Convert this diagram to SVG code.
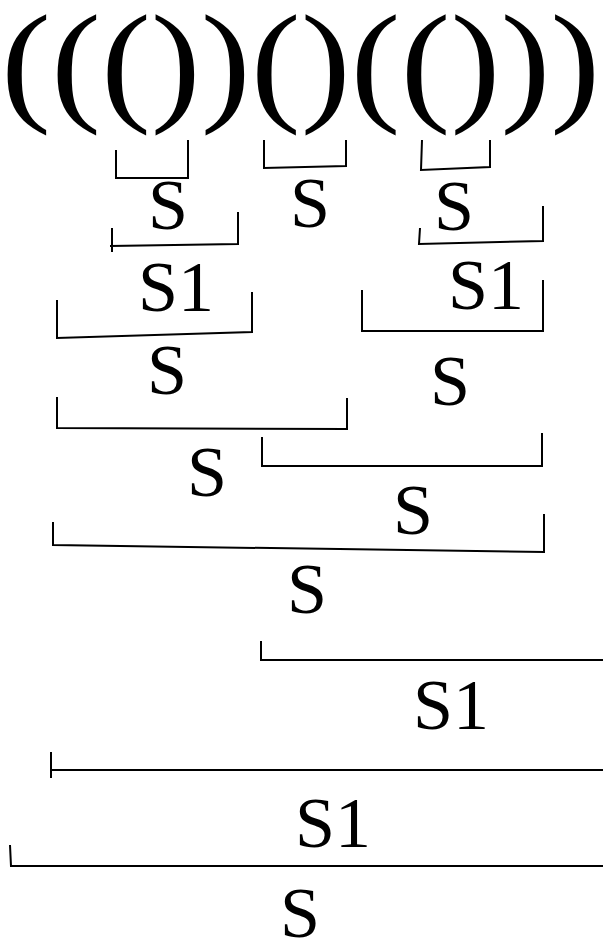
<svg xmlns="http://www.w3.org/2000/svg" width="603" height="944" viewBox="0 0 603 944">
<style>
.p{font-family:"Liberation Serif","Times New Roman",serif;font-size:150px;fill:#000}
.l{font-family:"Liberation Serif","Times New Roman",serif;font-size:72px;fill:#000;text-anchor:middle}
.b{fill:none;stroke:#000;stroke-width:2}
</style>
<rect width="603" height="944" fill="#fff"/>
<g id="parens"><text class="p" x="1" y="120" transform="scale(1,0.89)">((())()(()))</text></g>
<g id="connectors">
<path class="b" d="M116,150 V178 H188 V140"/>
<path class="b" d="M264,140 V168 L346,166 V140"/>
<path class="b" d="M422,140 L421,170 L490,167 V140"/>
<path class="b" d="M112,228 V252 M110,246 L238,244 V212"/>
<path class="b" d="M420,228 L419,244 L543,241 V206"/>
<path class="b" d="M57,300 V338 L252,332 V292"/>
<path class="b" d="M362,290 V331 H544 M543,331 V280"/>
<path class="b" d="M57,397 V428 L347,429 V398"/>
<path class="b" d="M262,437 V466 H542 V433"/>
<path class="b" d="M53,522 V545 L544,552 V514"/>
<path class="b" d="M261,641 V660 H603"/>
<path class="b" d="M51,752 V778 M51,770 H603"/>
<path class="b" d="M10,845 L11,866 H603"/>
</g>
<g id="labels">
<text class="l" x="168" y="229">S</text>
<text class="l" x="310" y="227">S</text>
<text class="l" x="454" y="230">S</text>
<text class="l" x="176" y="311">S1</text>
<text class="l" x="486" y="309">S1</text>
<text class="l" x="167" y="394">S</text>
<text class="l" x="450" y="405">S</text>
<text class="l" x="207" y="496">S</text>
<text class="l" x="413" y="534">S</text>
<text class="l" x="307" y="613">S</text>
<text class="l" x="451" y="729">S1</text>
<text class="l" x="333" y="847">S1</text>
<text class="l" x="300" y="937">S</text>
</g>
</svg>
